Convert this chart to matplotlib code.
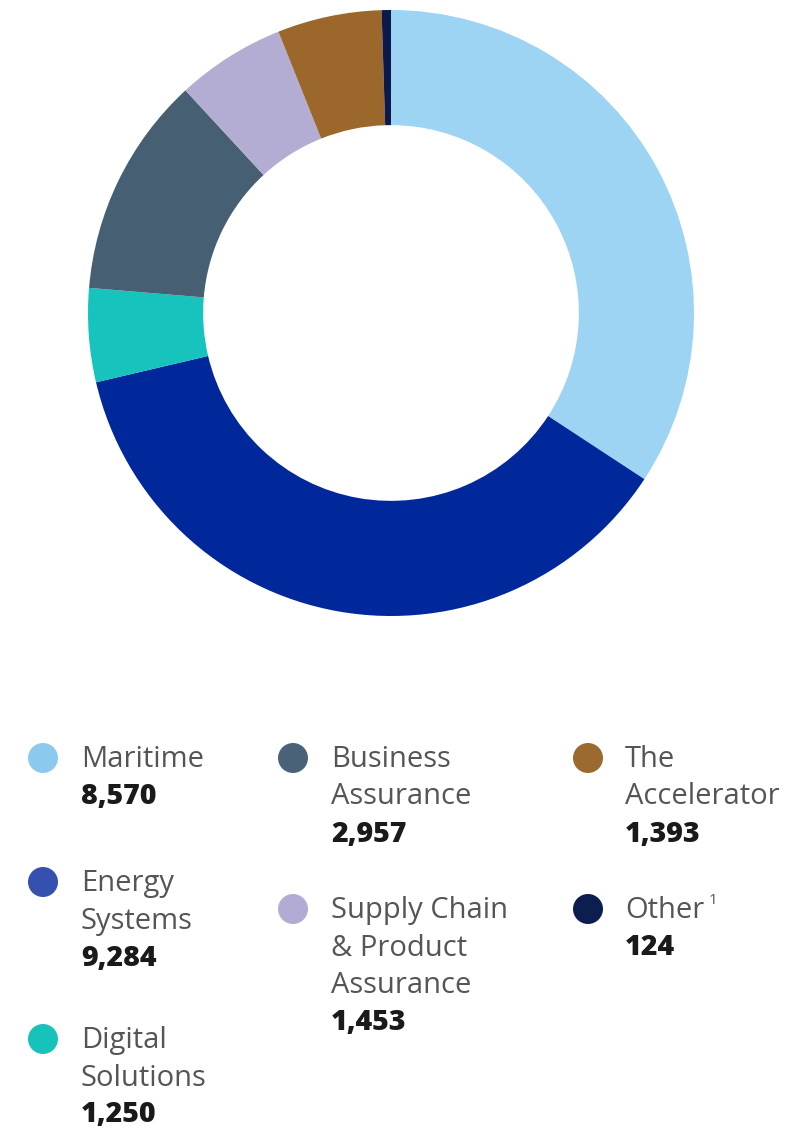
import matplotlib
matplotlib.use("Agg")
import matplotlib.pyplot as plt
from matplotlib.patches import Circle

# Segment data (clockwise from 12 o'clock)
segments = ["Maritime", "Energy Systems", "Digital Solutions", "Business Assurance",
            "Supply Chain & Product Assurance", "The Accelerator", "Other"]
values = [8570, 9284, 1250, 2957, 1453, 1393, 124]
slice_colors = ["#9dd3f3", "#00289b", "#16c3bd", "#475f73", "#b3acd3", "#9b672b", "#0b1a4a"]
legend_colors = ["#8bc9ef", "#3650b0", "#17c2bb", "#4a6278", "#b2abd3", "#9b6a2e", "#0c1e4f"]

# Legend label line breaks
legend_lines = {
    "Maritime": ["Maritime"],
    "Energy Systems": ["Energy", "Systems"],
    "Digital Solutions": ["Digital", "Solutions"],
    "Business Assurance": ["Business", "Assurance"],
    "Supply Chain & Product Assurance": ["Supply Chain", "& Product", "Assurance"],
    "The Accelerator": ["The", "Accelerator"],
    "Other": ["Other"],
}

W, H = 785, 1128
fig = plt.figure(figsize=(W / 100, H / 100), dpi=100)
fig.patch.set_facecolor("white")

# Donut chart
cx, cy, R = 391, 313, 303
ax = fig.add_axes([(cx - R) / W, (H - cy - R) / H, 2 * R / W, 2 * R / H])
ax.pie(values, colors=slice_colors, startangle=90, counterclock=False,
       radius=1.0, wedgeprops=dict(width=0.38, linewidth=0))
ax.set_xlim(-1, 1)
ax.set_ylim(-1, 1)
ax.set_aspect("auto")
ax.axis("off")

# Legend overlay in pixel coordinates
lax = fig.add_axes([0, 0, 1, 1])
lax.set_xlim(0, W)
lax.set_ylim(H, 0)
lax.axis("off")

font = "Open Sans"
label_size = 21
value_size = 20.5
line_gap = 37.5

# Column x positions (marker, text) and the first baseline of each entry
layout = [
    (43, 81, 767), (43, 81, 891), (43, 81, 1048),
    (293, 331, 767), (293, 331, 918),
    (588, 625, 767), (588, 625, 918),
]

for name, val, col, (mx, tx, y0) in zip(segments, values, legend_colors, layout):
    lax.add_patch(Circle((mx, y0 - 9), 15, color=col, lw=0))
    lines = legend_lines[name]
    t = None
    for i, ln in enumerate(lines):
        t = lax.text(tx, y0 + i * line_gap, ln, fontsize=label_size, family=font,
                     color="#555555", va="baseline", ha="left")
    if name == "Other":
        lax.annotate("1", xy=(1, 1), xycoords=t, xytext=(3, -9),
                     textcoords="offset points", fontsize=11, family=font,
                     color="#555555", va="bottom", ha="left")
    vy = y0 + (len(lines) - 1) * line_gap + 37
    lax.text(tx, vy, f"{val:,}", fontsize=value_size, family=font, weight="heavy",
             color="#1a1a1a", va="baseline", ha="left")

fig.savefig("out.png", dpi=100, facecolor="white")
